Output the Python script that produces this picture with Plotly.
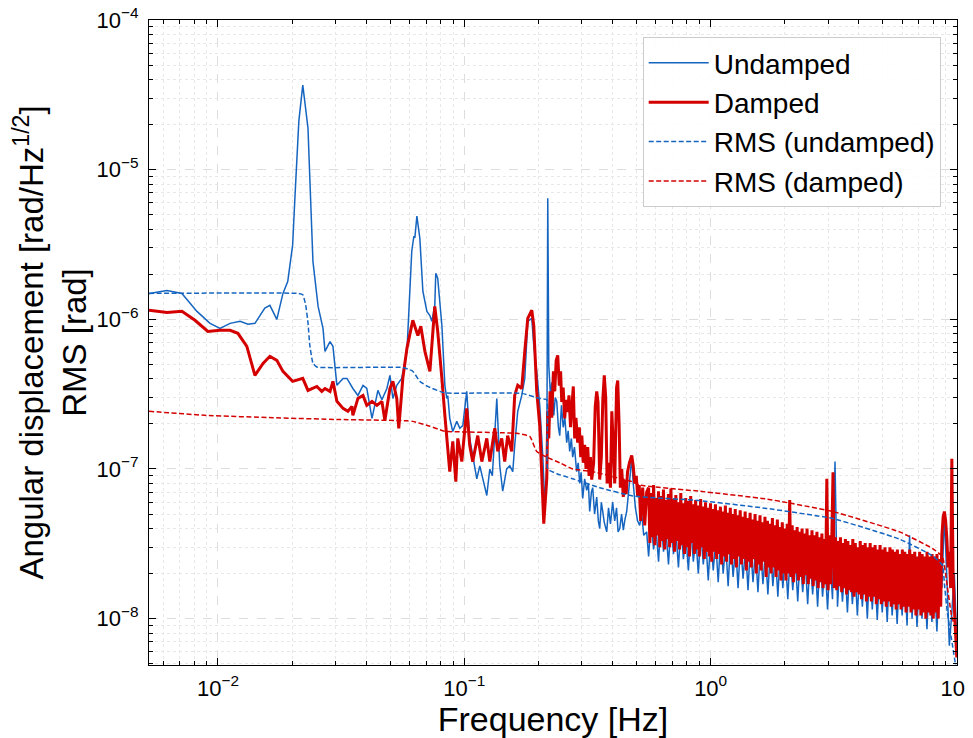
import numpy as np
import plotly.graph_objects as go

# ---------------- data ----------------
# Undamped spectrum, low-frequency part: frequency [Hz] and ASD [rad/Hz^1/2]
und_f = [0.00525, 0.00621, 0.00714, 0.00822, 0.00929, 0.0102, 0.0112, 0.0123, 0.01324, 0.01413,
         0.0155, 0.01625, 0.01734, 0.01836, 0.0192, 0.0201, 0.0205, 0.0213, 0.0221, 0.0232,
         0.0236, 0.0243, 0.0255, 0.0267, 0.0272, 0.0285, 0.0293, 0.0304, 0.0322, 0.0334,
         0.0353, 0.0370, 0.0388, 0.0402, 0.0422, 0.0446, 0.0463, 0.0485, 0.0499, 0.0513,
         0.0532, 0.0557, 0.0585, 0.0612, 0.0624, 0.0630, 0.0642, 0.0660, 0.0679, 0.0705,
         0.0725, 0.0738, 0.0759, 0.0766, 0.0780, 0.0811, 0.0834, 0.0849, 0.0857, 0.0873,
         0.0898, 0.0932, 0.0959, 0.0986, 0.1023, 0.1052, 0.1124, 0.1156, 0.1189, 0.1234,
         0.1269, 0.1300, 0.1355, 0.1393, 0.1432, 0.1486, 0.1530, 0.1573, 0.1602, 0.1648,
         0.1711, 0.1760, 0.1810, 0.1879, 0.1914, 0.1968, 0.2024, 0.2082, 0.2120, 0.2162,
         0.2182, 0.2203, 0.2240, 0.2265, 0.2308, 0.2340, 0.2373, 0.2410, 0.2440, 0.2480,
         0.2520, 0.2560, 0.2604, 0.2640, 0.2678, 0.2720, 0.2754, 0.2800, 0.2858, 0.2900,
         0.2941, 0.2980, 0.3025, 0.3080, 0.3140, 0.3190, 0.3229, 0.3280, 0.3321, 0.3380,
         0.3448, 0.3500, 0.3546, 0.3600, 0.3647, 0.3700, 0.3786, 0.3850, 0.3920, 0.4001,
         0.4080, 0.4150, 0.4210, 0.4276, 0.4350, 0.4420, 0.4490, 0.4563, 0.4680, 0.4782,
         0.4850, 0.4950, 0.5050, 0.5151, 0.5250, 0.5350, 0.5500]
und_v = [1.49e-6, 1.56e-6, 1.49e-6, 1.13e-6, 9.4e-7, 8.7e-7, 9.4e-7, 9.7e-7, 9.26e-7, 9.4e-7,
         1.19e-6, 1.24e-6, 1.0e-6, 1.49e-6, 1.79e-6, 3.13e-6, 6.15e-6, 2.11e-5, 3.67e-5, 1.9e-5,
         8.8e-6, 2.44e-6, 1.22e-6, 8.7e-7, 6.1e-7, 7.1e-7, 6.6e-7, 3.62e-7, 4.03e-7, 4.03e-7,
         3.45e-7, 3.1e-7, 3.62e-7, 3.45e-7, 2.18e-7, 3.35e-7, 2.9e-7, 3.45e-7, 4.22e-7, 2.96e-7,
         3.62e-7, 4.03e-7, 6.11e-7, 2.85e-6, 3.59e-6, 3.5e-6, 4.89e-6, 3.48e-6, 1.54e-6, 1.13e-6,
         1.06e-6, 9.7e-7, 1.24e-6, 2.03e-6, 1.88e-6, 9.1e-7, 3.62e-7, 2.96e-7, 3.1e-7, 2.18e-7,
         1.78e-7, 2.08e-7, 1.87e-7, 1.95e-7, 3.3e-7, 1.6e-7, 8.6e-8, 1.05e-7, 8.63e-8, 6.65e-8,
         1.0e-7, 9.0e-8, 2.96e-7, 1.05e-7, 7.1e-8, 1.0e-7, 1.05e-7, 9.6e-8, 1.44e-7, 2.43e-7,
         3.1e-7, 4.03e-7, 9.7e-7, 1.015e-6, 6.7e-7, 4.49e-7, 2.66e-7, 1.23e-7, 6.0e-8, 1.0e-7,
         6.44e-6, 4.92e-7, 3.0e-7, 3.8e-7, 2.28e-7, 3.0e-7, 2.83e-7, 1.9e-7, 1.67e-7, 2.66e-7,
         1.9e-7, 2.2e-7, 1.5e-7, 1.8e-7, 1.31e-7, 1.6e-7, 1.2e-7, 1.4e-7, 9.6e-8, 1.1e-7,
         8.0e-8, 9.5e-8, 6.35e-8, 8.6e-8, 7.2e-8, 8.0e-8, 5.2e-8, 7.0e-8, 7.5e-8, 5.0e-8,
         6.5e-8, 4.5e-8, 4.0e-8, 6.0e-8, 5.2e-8, 4.4e-8, 3.8e-8, 5.5e-8, 4.3e-8, 6.0e-8,
         4.5e-8, 5.5e-8, 3.8e-8, 4.0e-8, 5.0e-8, 3.9e-8, 4.6e-8, 5.2e-8, 8.0e-8, 1.2e-7,
         8.0e-8, 5.5e-8, 4.5e-8, 4.2e-8, 5.0e-8, 3.6e-8, 3.8e-8]

# Damped spectrum, low-frequency part
dmp_f = [0.00525, 0.00621, 0.00714, 0.00807, 0.0091, 0.0102, 0.0112, 0.01205, 0.0131, 0.01413,
         0.01524, 0.01625, 0.01734, 0.01836, 0.0201, 0.0221, 0.0232, 0.0252, 0.0264, 0.0272,
         0.0285, 0.0293, 0.0304, 0.0322, 0.0337, 0.0350, 0.0353, 0.0370, 0.0388, 0.0402,
         0.0422, 0.0442, 0.0463, 0.0476, 0.0499, 0.0513, 0.0532, 0.0542, 0.0563, 0.0585,
         0.0618, 0.0648, 0.0666, 0.0692, 0.0725, 0.0759, 0.0780, 0.0811, 0.0834, 0.0873,
         0.0898, 0.0924, 0.0941, 0.0977, 0.1023, 0.1052, 0.1082, 0.1134, 0.1178, 0.1234,
         0.1269, 0.1330, 0.1367, 0.1419, 0.1459, 0.1500, 0.1558, 0.1602, 0.1648, 0.1711,
         0.1760, 0.1810, 0.1879, 0.1914, 0.1968, 0.2024, 0.2102, 0.2162, 0.2182, 0.2203,
         0.2230, 0.2265, 0.2300, 0.2329, 0.2360, 0.2395, 0.2430, 0.2460, 0.2486, 0.2520,
         0.2556, 0.2590, 0.2628, 0.2660, 0.2700, 0.2729, 0.2770, 0.2806, 0.2840, 0.2885,
         0.2930, 0.2970, 0.3000, 0.3040, 0.3082, 0.3120, 0.3170, 0.3210, 0.3250, 0.3290,
         0.3350, 0.3400, 0.3448, 0.3490, 0.3546, 0.3600, 0.3650, 0.3700, 0.3750, 0.3800,
         0.3860, 0.3920, 0.3970, 0.4020, 0.4080, 0.4150, 0.4196, 0.4250, 0.4300, 0.4355,
         0.4420, 0.4480, 0.4540, 0.4600, 0.4680, 0.4782, 0.4850, 0.4917, 0.4990, 0.5057,
         0.5130, 0.5200, 0.5298, 0.5400, 0.5500]
dmp_v = [1.15e-6, 1.11e-6, 1.13e-6, 9.85e-7, 8.3e-7, 8.44e-7, 8.44e-7, 8.06e-7, 6.6e-7, 4.22e-7,
         5.08e-7, 5.66e-7, 5.32e-7, 4.49e-7, 3.85e-7, 4.03e-7, 3.35e-7, 3.56e-7, 3.3e-7, 3.45e-7,
         3.3e-7, 3.85e-7, 2.83e-7, 2.54e-7, 2.43e-7, 2.62e-7, 2.28e-7, 2.96e-7, 3.1e-7, 2.66e-7,
         2.83e-7, 2.66e-7, 2.83e-7, 2.11e-7, 3.45e-7, 3.85e-7, 2.96e-7, 1.87e-7, 4.03e-7, 6.4e-7,
         9.85e-7, 7.8e-7, 8.98e-7, 6.11e-7, 4.49e-7, 1.22e-6, 8.3e-7, 4.03e-7, 2.28e-7, 9.6e-8,
         1.53e-7, 8.24e-8, 1.6e-7, 1.12e-7, 2.54e-7, 1.44e-7, 1.12e-7, 1.67e-7, 1.12e-7, 1.6e-7,
         1.12e-7, 1.87e-7, 1.31e-7, 1.6e-7, 1.12e-7, 1.67e-7, 1.31e-7, 3.1e-7, 3.62e-7, 3.45e-7,
         6.11e-7, 1.015e-6, 1.15e-6, 9.1e-7, 3.3e-7, 1.95e-7, 4.31e-8, 8.63e-8, 2.43e-7, 1.6e-7,
         3.3e-7, 2.2e-7, 4.5e-7, 3.3e-7, 5.3e-7, 5.74e-7, 3.6e-7, 4.5e-7, 2.8e-7, 3.5e-7,
         2.18e-7, 2.9e-7, 2.4e-7, 3.1e-7, 1.9e-7, 2.5e-7, 3.56e-7, 1.6e-7, 2.2e-7, 1.5e-7,
         1.9e-7, 1.2e-7, 1.67e-7, 1.1e-7, 1.45e-7, 1.0e-7, 1.4e-7, 9.0e-8, 1.2e-7, 8.5e-8,
         1.1e-7, 2.6e-7, 3.3e-7, 2.8e-7, 8.5e-8, 1.2e-7, 2.9e-7, 4.22e-7, 3.0e-7, 8.0e-8,
         1.1e-7, 7.5e-8, 2.43e-7, 1.5e-7, 8.0e-8, 3.5e-7, 3.9e-7, 2.0e-7, 7.5e-8, 1.0e-7,
         6.5e-8, 8.5e-8, 6.8e-8, 9.6e-8, 1.1e-7, 1.23e-7, 1.05e-7, 8.0e-8, 9.0e-8, 6.5e-8,
         7.8e-8, 4.5e-8, 7.5e-8, 4.2e-8, 7.0e-8]

# High-frequency part (log-spaced bins from 0.56 Hz to 9.98 Hz), values in units of 1e-8 rad/Hz^1/2
hf_start, hf_stop = 0.56, 9.98
und_hf = [2.6, 4.5, 2.9, 4.0, 2.4, 4.8, 2.8, 3.9, 2.3, 4.4,
          2.7, 3.8, 2.2, 4.2, 2.5, 3.6, 2.1, 4.0, 2.4, 3.5,
          2.0, 3.8, 2.3, 3.4, 1.8, 3.6, 2.1, 3.3, 1.75, 3.5,
          2.0, 3.2, 1.65, 3.4, 1.9, 3.1, 1.6, 3.3, 1.85, 3.0,
          1.55, 3.2, 1.75, 2.9, 1.5, 3.1, 1.7, 2.8, 1.45, 3.0,
          1.65, 2.8, 1.4, 2.9, 1.6, 2.7, 1.35, 2.8, 1.55, 2.6,
          1.3, 2.7, 1.5, 2.5, 1.25, 2.6, 1.45, 2.5, 1.2, 2.6,
          1.4, 2.4, 1.15, 2.5, 1.35, 11.2, 1.2, 2.4, 1.3, 2.3,
          1.1, 2.4, 1.25, 2.2, 1.05, 2.3, 1.2, 2.2, 1.0, 2.3,
          1.15, 2.1, 0.98, 2.2, 1.1, 2.1, 0.95, 2.2, 1.05, 2.0,
          0.92, 2.1, 1.05, 2.0, 0.9, 3.6, 1.0, 2.0, 0.88, 2.1,
          1.0, 1.9, 0.85, 2.0, 0.95, 1.9, 0.82, 2.0,
          1.6, 4.9, 1.9, 0.66, 1.1, 2.0, 0.7]
dmp_hf = [7.5, 3.2, 6.9, 3.5, 7.8, 3.1, 6.4, 3.6, 7.1, 3.0,
          6.6, 3.3, 7.3, 2.9, 6.2, 3.4, 6.8, 3.0, 7.4, 3.2,
          6.3, 2.8, 6.7, 3.3, 6.0, 2.9, 6.9, 3.1, 5.9, 2.7,
          6.4, 3.0, 6.1, 2.6, 6.6, 3.2, 5.8, 2.7, 6.2, 2.9,
          5.7, 2.6, 6.3, 3.0, 5.6, 2.5, 6.0, 2.8, 5.5, 2.6,
          5.9, 2.4, 5.4, 2.8, 5.8, 2.5, 5.3, 2.7, 5.6, 2.3,
          5.2, 2.6, 5.7, 2.4, 5.1, 2.7, 5.5, 2.3, 5.0, 2.5,
          5.4, 2.2, 4.9, 2.6, 5.3, 2.3, 4.8, 2.5, 5.2, 2.1,
          4.7, 2.4, 5.1, 2.2, 4.6, 2.5, 5.0, 2.0, 4.5, 2.3,
          4.9, 2.1, 4.4, 2.4, 4.8, 1.9, 4.5, 2.2, 4.3, 2.0,
          4.7, 2.2, 4.2, 1.9, 4.6, 2.1, 4.1, 1.8, 4.4, 2.0,
          4.0, 1.8, 4.3, 2.0, 6.2, 1.9, 4.2, 1.75, 3.9, 2.0,
          4.1, 1.8, 3.8, 1.9, 4.0, 1.7, 3.7, 1.95, 4.0, 1.7,
          3.6, 1.85, 3.9, 1.65, 3.6, 1.8, 3.8, 1.6, 3.5, 1.75,
          3.7, 1.6, 3.4, 1.7, 8.6, 1.55, 3.6, 1.7, 3.4, 9.5,
          1.6, 3.5, 1.55, 3.3, 1.65, 3.5, 1.5, 3.2, 1.6, 3.4,
          1.45, 3.3, 1.55, 3.1, 1.5, 3.4, 1.4, 3.2, 1.5, 3.0,
          1.45, 3.3, 1.35, 3.1, 1.45, 3.2, 1.3, 3.0, 1.4, 3.2,
          1.3, 3.0, 1.4, 3.1, 1.25, 2.9, 1.35, 3.1, 1.25, 2.9,
          1.3, 3.0, 1.2, 2.8, 1.3, 3.0, 1.2, 2.9, 1.25, 2.8,
          1.15, 2.9, 1.25, 2.7, 1.15, 2.9, 1.2, 2.8, 1.1, 2.7,
          1.2, 2.9, 1.1, 2.7, 1.15, 2.8, 1.05, 2.6, 1.15, 2.8,
          1.05, 2.7, 1.1, 2.6, 1.0, 2.8, 1.1, 2.6, 1.05, 2.7,
          1.0, 2.6, 1.1, 2.7, 1.0, 2.5, 1.2, 3.6, 4.8, 5.2,
          4.5, 3.4, 2.2, 2.8, 1.6, 11.7, 2.0, 1.2, 0.8, 0.55]
hf_unit = 1e-8

# RMS curves
rms_und_f = [0.00525, 0.0211, 0.0221, 0.0227, 0.0232, 0.0236, 0.0243, 0.0252, 0.0563, 0.0618,
             0.0660, 0.0711, 0.0796, 0.0834, 0.171, 0.2024, 0.2162, 0.2182, 0.2373, 0.2754,
             0.3546, 0.4827, 0.902, 1.687, 3.126, 5.84, 7.96, 8.73, 8.9, 9.13, 9.5, 9.95]
rms_und_v = [1.49e-6, 1.49e-6, 1.46e-6, 1.25e-6, 9.5e-7, 6.7e-7, 5.1e-7, 4.8e-7, 4.77e-7, 4.5e-7,
             3.85e-7, 3.56e-7, 3.3e-7, 3.22e-7, 3.2e-7, 2.96e-7, 2.9e-7, 1.0e-7, 9.3e-8, 8.6e-8,
             7.5e-8, 6.6e-8, 6.15e-8, 5.45e-8, 4.67e-8, 3.4e-8, 2.63e-8, 2.27e-8, 1.67e-8, 1.11e-8, 7.3e-9, 4.5e-9]
rms_dmp_f = [0.00525, 0.0090, 0.0167, 0.0313, 0.0585, 0.0618, 0.0725, 0.0818, 0.0849, 0.1635,
             0.1844, 0.1968, 0.2162, 0.2440, 0.2754, 0.3321, 0.4827, 0.5151, 0.902, 1.687,
             3.126, 5.84, 7.96, 8.73, 9.13, 9.5, 9.8]
rms_dmp_v = [2.43e-7, 2.28e-7, 2.2e-7, 2.14e-7, 2.1e-7, 2.08e-7, 1.93e-7, 1.8e-7, 1.78e-7, 1.73e-7,
             1.65e-7, 1.31e-7, 1.2e-7, 1.1e-7, 1.0e-7, 9.6e-8, 8.2e-8, 7.8e-8, 7.1e-8, 6.3e-8,
             5.2e-8, 3.8e-8, 2.94e-8, 2.6e-8, 1.65e-8, 1.05e-8, 8.9e-9]

x_major = [0.01, 0.1, 1, 10]
x_major_text = ["10<sup>−2</sup>", "10<sup>−1</sup>", "10<sup>0</sup>", "10<sup>1</sup>"]
y_major = [1e-8, 1e-7, 1e-6, 1e-5, 1e-4]
y_major_text = ["10<sup>−8</sup>", "10<sup>−7</sup>", "10<sup>−6</sup>", "10<sup>−5</sup>", "10<sup>−4</sup>"]

# ---------------- assemble ----------------
und_x = list(und_f) + list(np.geomspace(hf_start, hf_stop, len(und_hf)))
und_y = list(und_v) + [v * hf_unit for v in und_hf]
dmp_x = list(dmp_f) + list(np.geomspace(hf_start, hf_stop, len(dmp_hf)))
dmp_y = list(dmp_v) + [v * hf_unit for v in dmp_hf]

BLUE = "#1565c0"
RED = "#d40000"
FONT = "Liberation Sans, Arial, sans-serif"

fig = go.Figure()
fig.add_trace(go.Scatter(x=und_x, y=und_y, mode="lines", name="Undamped",
                         line=dict(color=BLUE, width=1.5, simplify=False)))
fig.add_trace(go.Scatter(x=dmp_x, y=dmp_y, mode="lines", name="Damped",
                         line=dict(color=RED, width=3, simplify=False)))
fig.add_trace(go.Scatter(x=rms_und_f, y=rms_und_v, mode="lines", name="RMS (undamped)",
                         line=dict(color=BLUE, width=1.5, dash="5px,2.5px", shape="spline", smoothing=0.4)))
fig.add_trace(go.Scatter(x=rms_dmp_f, y=rms_dmp_v, mode="lines", name="RMS (damped)",
                         line=dict(color=RED, width=1.5, dash="5px,2.5px", shape="spline", smoothing=0.4)))

def minor_vals(lo_exp, hi_exp, lo, hi):
    out = []
    for e in range(lo_exp, hi_exp + 1):
        for m in range(2, 10):
            v = m * 10.0 ** e
            if lo <= v <= hi:
                out.append(v)
    return out

axis_common = dict(
    type="log", showline=True, linecolor="black", linewidth=1.2, mirror="allticks",
    ticks="inside", ticklen=7, tickwidth=1, tickcolor="black", automargin=False,
    ticklabeloverflow="allow",
    showgrid=True, gridcolor="#dddddd", gridwidth=0.8, griddash="dash",
    zeroline=False, tickfont=dict(family=FONT, size=22, color="black"),
)

fig.update_xaxes(
    **axis_common,
    range=[np.log10(0.00525), 1.0],
    tickmode="array", tickvals=x_major, ticktext=x_major_text, ticklabelstandoff=3,
    minor=dict(tickmode="array", tickvals=minor_vals(-3, 0, 0.00525, 10), ticks="inside",
               ticklen=4, tickcolor="black", showgrid=True, gridcolor="#e8e8e8",
               griddash="dot", gridwidth=0.8),
    title=dict(text="Frequency [Hz]", font=dict(family=FONT, size=34, color="black"), standoff=6),
)
fig.update_yaxes(
    **axis_common,
    range=[np.log10(4.9e-9), -4.0],
    tickmode="array", tickvals=y_major, ticktext=y_major_text, ticklabelstandoff=5,
    minor=dict(tickmode="array", tickvals=minor_vals(-9, -5, 4.9e-9, 1e-4), ticks="inside",
               ticklen=4, tickcolor="black", showgrid=True, gridcolor="#e8e8e8",
               griddash="dot", gridwidth=0.8),
    title=dict(text="Angular displacement [rad/Hz<sup>1/2</sup>]<br>RMS [rad]",
               font=dict(family=FONT, size=33, color="black"), standoff=6),
)

# the page body adds an 8 px offset, so the figure is 8 px smaller than the window
fig.update_layout(
    width=965, height=730,
    margin=dict(l=141, r=16, t=12, b=73),
    paper_bgcolor="white", plot_bgcolor="white",
    font=dict(family=FONT, color="black"),
    legend=dict(x=0.611, y=0.9736, xanchor="left", yanchor="top",
                bgcolor="rgba(255,255,255,0.9)", bordercolor="#cccccc", borderwidth=1,
                font=dict(family=FONT, size=28, color="black"), tracegroupgap=0,
                itemwidth=60),
    showlegend=True,
)

fig.write_html("out.html")
